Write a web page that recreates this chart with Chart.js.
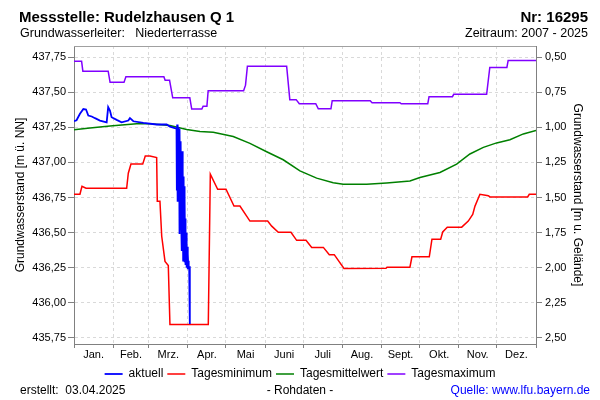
<!DOCTYPE html>
<html><head><meta charset="utf-8">
<script src="https://cdn.jsdelivr.net/npm/chart.js@4/dist/chart.umd.min.js"></script>
<style>
html,body{margin:0;padding:0;background:#fff;}
#wrap{position:relative;width:600px;height:400px;font-family:"Liberation Sans",Arial,sans-serif;overflow:hidden;}
#c{position:absolute;left:0;top:0;}
.t{position:absolute;white-space:nowrap;color:#000;}
</style></head><body>
<div id="wrap">
<canvas id="c" width="600" height="400"></canvas>
<div class="t" style="left:19px;top:9px;font-size:15px;line-height:15px;font-weight:bold">Messstelle: Rudelzhausen Q 1</div>
<div class="t" style="right:12px;top:9px;font-size:15px;line-height:15px;font-weight:bold">Nr: 16295</div>
<div class="t" style="left:20px;top:27px;font-size:12.5px;line-height:12px">Grundwasserleiter:&nbsp;&nbsp; Niederterrasse</div>
<div class="t" style="right:12px;top:27px;font-size:12.5px;line-height:12px">Zeitraum: 2007 - 2025</div>
<div class="t" style="left:20px;top:384px;font-size:12px;line-height:12px">erstellt:&nbsp;&nbsp;03.04.2025</div>
<div class="t" style="left:300px;top:384px;font-size:12px;line-height:12px;transform:translateX(-50%)">- Rohdaten -</div>
<div class="t" style="right:10px;top:384px;font-size:12px;line-height:12px;color:#0000ff">Quelle: www.lfu.bayern.de</div>
</div>
<script>
const monthNames = ['Jan.','Feb.','Mrz.','Apr.','Mai','Juni','Juli','Aug.','Sept.','Okt.','Nov.','Dez.'];
const monthStarts = [0,31,59,90,120,151,181,212,243,273,304,334,365];
const leftTicks = [435.75,436.00,436.25,436.50,436.75,437.00,437.25,437.50,437.75];
const rightTicks = [0.50,0.75,1.00,1.25,1.50,1.75,2.00,2.25,2.50];

// aktuell (2025)
const actDays = [0,2,4.7,7.4,9.5,11.3,14,16.6,20.5,25.8,27,28.4,29.7,33.7,37.6,42.9,44.2,46.9,54.8,65.3,73.2,75.8,
  81,81.25,81.5,81.75,82,82.25,82.5,82.75,83,83.25,83.5,83.75,84,84.25,84.5,84.75,85,85.25,85.5,85.75,
  86,86.25,86.5,86.75,87,87.25,87.5,87.75,88,88.25,88.5,88.75,89,89.25,89.5,89.75,90,90.25,90.5,90.75,91,91.5];
const actVals = [437.293,437.30,437.346,437.38,437.377,437.334,437.327,437.315,437.298,437.286,437.394,437.37,437.322,437.303,437.286,437.298,437.315,437.293,437.282,437.27,437.27,437.255,
  437.24,436.80,437.27,436.72,437.26,436.90,437.25,436.75,437.20,436.49,437.24,436.85,437.10,436.60,437.15,436.55,437.05,436.37,437.08,436.50,
  436.95,436.30,436.90,436.40,436.83,436.29,436.75,436.35,436.60,436.27,436.50,436.30,436.45,436.25,436.40,436.24,436.35,436.27,436.30,436.24,436.26,435.85];

// Tagesminimum
const minDays = [0,4.7,6.3,9.5,41.6,42.9,45,54.3,56.3,60,65.3,65.8,67.9,69.3,71.9,74.5,75.8,106.1,107.7,113.5,120.1,126.4,131.1,139,153,156.2,161.4,171.4,175.9,183.3,187.8,197,201.7,205.6,213.3,246.5,247.3,265.4,267,280.7,282.8,289.7,291.3,294.9,306.3,311.5,315,316.8,320.7,327.3,328.6,358.4,359.7,365];
const minVals = [436.773,436.773,436.83,436.816,436.816,436.923,436.988,436.988,437.045,437.045,437.035,436.723,436.723,436.474,436.295,436.266,435.845,435.845,436.916,436.809,436.809,436.689,436.689,436.582,436.582,436.546,436.503,436.503,436.445,436.445,436.395,436.395,436.343,436.343,436.245,436.247,436.254,436.254,436.328,436.328,436.453,436.453,436.505,436.539,436.539,436.582,436.63,436.689,436.773,436.763,436.754,436.754,436.773,436.773];

// Tagesmittelwert
const meanDays = [0,12.6,28.4,49.5,60,75.8,89,99.5,110,125.8,139,152.2,165.3,178.5,191.7,204.8,212.7,231.2,247,265.4,273.3,289.1,302.3,312.8,323.4,333.9,344.4,355,365];
const meanVals = [437.232,437.245,437.26,437.275,437.275,437.263,437.235,437.22,437.215,437.184,437.136,437.076,437.019,436.94,436.888,436.856,436.845,436.845,436.854,436.868,436.892,436.928,436.988,437.06,437.107,437.139,437.162,437.203,437.227];

// Tagesmaximum
const maxDays = [0,6,7,27,28.5,39.5,41,71,72,75.5,78,91.5,93,101,102,105,106,134,135.5,137,168,170.5,175.5,178,191,193,203,204,234,235.5,257.5,258.5,279.5,280.5,299,300,326,328.5,342,343,365];
const maxVals = [437.72,437.72,437.65,437.65,437.57,437.57,437.61,437.61,437.585,437.585,437.46,437.46,437.38,437.38,437.40,437.40,437.51,437.51,437.55,437.685,437.685,437.447,437.447,437.418,437.418,437.382,437.382,437.44,437.44,437.425,437.425,437.418,437.418,437.468,437.468,437.485,437.485,437.676,437.676,437.726,437.726];

const leftMin = 435.707, leftMax = 437.829;
const offset = 438.25; // m ü. NN -> m u. Gelände

const zip = (d, v) => d.map((x, i) => ({x: x, y: v[i]}));
const fmt = v => v.toFixed(2).replace('.', ',');
const FONT = '"Liberation Sans", Arial, sans-serif';

const xTicks = [];
monthStarts.forEach((s, i) => {
  xTicks.push({value: s, label: ''});
  if (i < 12) xTicks.push({value: (s + monthStarts[i+1]) / 2, label: monthNames[i]});
});
const isBoundary = v => monthStarts.includes(v);

const topBorder = {
  id: 'topBorder',
  afterDraw(chart) {
    const {ctx, chartArea: a} = chart;
    ctx.save();
    ctx.strokeStyle = '#a0a0a0';
    ctx.lineWidth = 1;
    ctx.beginPath();
    ctx.moveTo(a.left, a.top + 0.5);
    ctx.lineTo(a.right, a.top + 0.5);
    ctx.stroke();
    ctx.restore();
  }
};

const gridColor = '#d9d9d9';

new Chart(document.getElementById('c'), {
  type: 'line',
  data: {
    datasets: [
      {label: 'aktuell', data: zip(actDays, actVals), borderColor: '#0000ff', backgroundColor: '#0000ff', borderWidth: 1.8},
      {label: 'Tagesminimum', data: zip(minDays, minVals), borderColor: '#ff0000', backgroundColor: '#ff0000', borderWidth: 1.5},
      {label: 'Tagesmittelwert', data: zip(meanDays, meanVals), borderColor: '#008000', backgroundColor: '#008000', borderWidth: 1.5},
      {label: 'Tagesmaximum', data: zip(maxDays, maxVals), borderColor: '#8000ff', backgroundColor: '#8000ff', borderWidth: 1.5}
    ]
  },
  options: {
    responsive: false,
    animation: false,
    elements: {point: {radius: 0, hoverRadius: 0}, line: {tension: 0}},
    layout: {padding: {top: 46, left: 0, right: 0, bottom: 10}},
    plugins: {
      tooltip: {enabled: false},
      legend: {
        position: 'bottom',
        labels: {
          usePointStyle: true, pointStyle: 'line', pointStyleWidth: 18,
          color: '#000', font: {family: FONT, size: 12}, padding: 4
        }
      }
    },
    scales: {
      x: {
        type: 'linear', min: 0, max: 365,
        afterBuildTicks: s => { s.ticks = xTicks.map(t => ({value: t.value})); },
        afterFit: s => { s.height = 20; },
        ticks: {
          autoSkip: false, maxRotation: 0, minRotation: 0, padding: 0,
          color: '#000', font: {family: FONT, size: 11},
          callback: (v, i) => xTicks[i] ? xTicks[i].label : ''
        },
        grid: {
          color: c => (c.tick && isBoundary(c.tick.value)) ? gridColor : 'rgba(0,0,0,0)',
          tickColor: c => (c.tick && isBoundary(c.tick.value)) ? '#808080' : 'rgba(0,0,0,0)',
          tickLength: 4, drawTicks: true
        },
        border: {display: true, color: '#808080', width: 1, dash: [3, 3]}
      },
      y: {
        type: 'linear', position: 'left', min: leftMin, max: leftMax,
        afterBuildTicks: s => { s.ticks = leftTicks.map(v => ({value: v})); },
        afterFit: s => { s.width = 74; },
        ticks: {color: '#000', font: {family: FONT, size: 11}, padding: 2, callback: v => fmt(v)},
        grid: {color: gridColor, tickColor: '#808080', tickLength: 6},
        border: {display: true, color: '#808080', width: 1, dash: [3, 3]},
        title: {display: true, text: 'Grundwasserstand [m ü. NN]', color: '#000', font: {family: FONT, size: 12}, padding: {top: 13, bottom: 0}}
      },
      y2: {
        type: 'linear', position: 'right', reverse: true,
        min: offset - leftMax, max: offset - leftMin,
        afterBuildTicks: s => { s.ticks = rightTicks.map(v => ({value: v})); },
        afterFit: s => { s.width = 64; },
        ticks: {color: '#000', font: {family: FONT, size: 11}, padding: 3, callback: v => fmt(v)},
        grid: {drawOnChartArea: false, tickColor: '#808080', tickLength: 6},
        border: {display: true, color: '#808080', width: 1},
        title: {display: true, text: 'Grundwasserstand [m u. Gelände]', color: '#000', font: {family: FONT, size: 12}, padding: {top: 15, bottom: 0}}
      }
    }
  },
  plugins: [topBorder]
});
</script>
</body></html>
